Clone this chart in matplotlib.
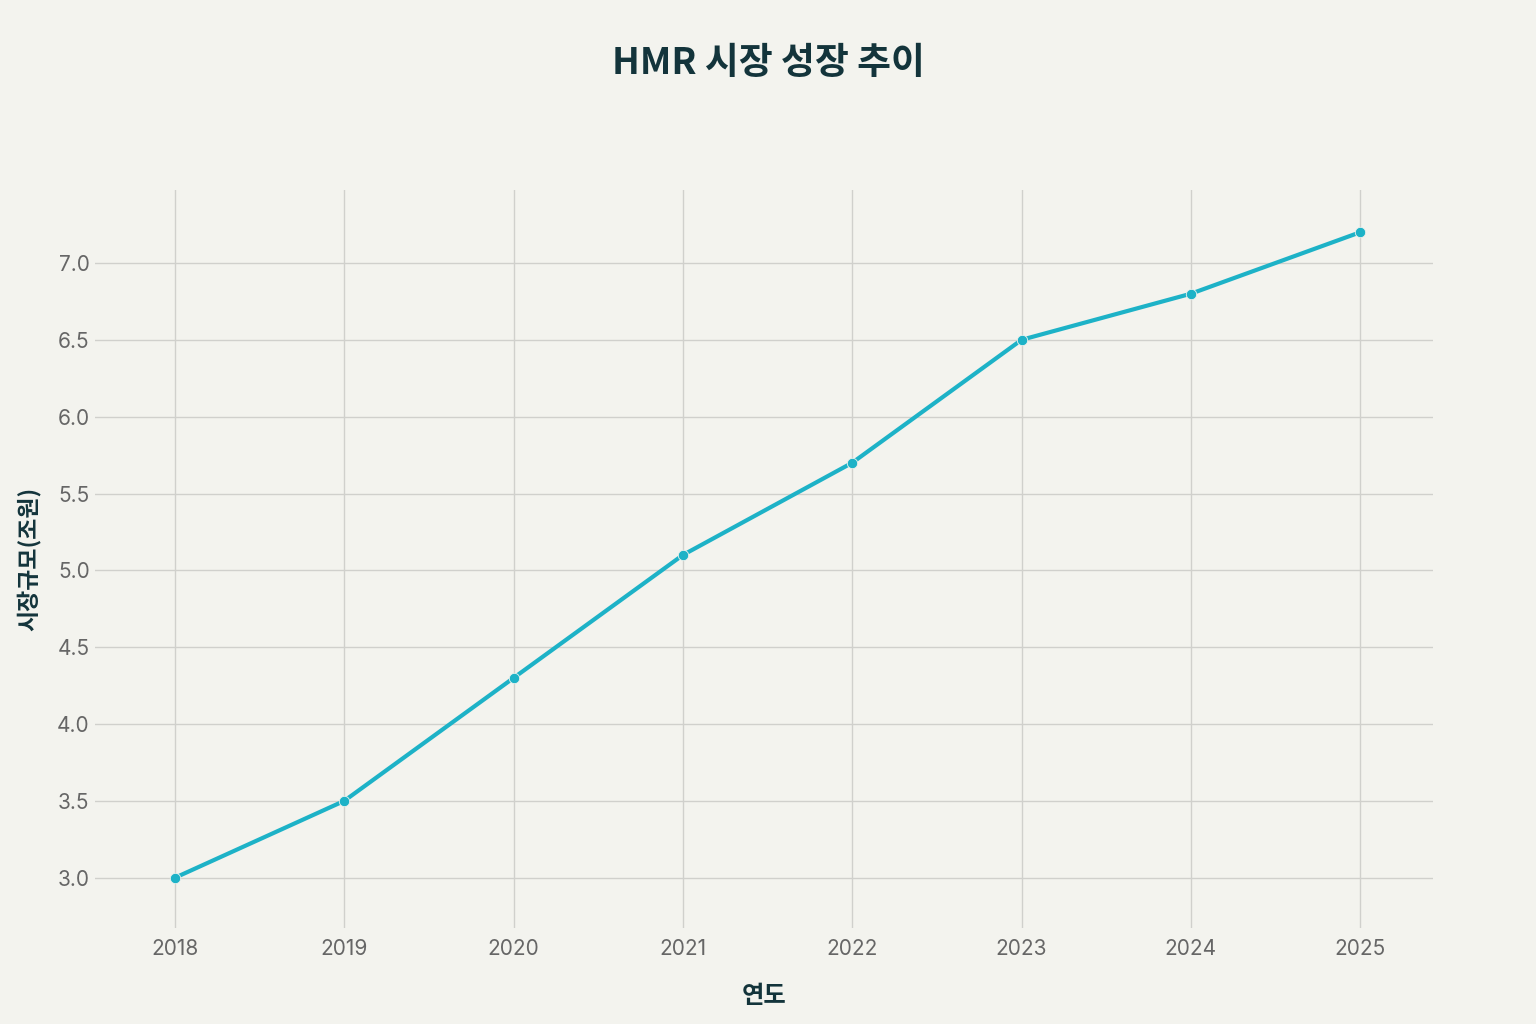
import matplotlib
matplotlib.use("Agg")
import matplotlib.pyplot as plt

years = [2018, 2019, 2020, 2021, 2022, 2023, 2024, 2025]
market_size = [3.0, 3.5, 4.3, 5.1, 5.7, 6.5, 6.8, 7.2]
y_ticks = [3.0, 3.5, 4.0, 4.5, 5.0, 5.5, 6.0, 6.5, 7.0]

title = "HMR 시장 성장 추이"
x_label = "연도"
y_label = "시장규모(조원)"

plt.rcParams['font.family'] = ['Noto Sans CJK KR', 'DejaVu Sans']

bg = "#F3F3EE"
fig = plt.figure(figsize=(15.36, 10.24), dpi=100, facecolor=bg)
ax = fig.add_axes([0.062, 0.094, 0.871, 0.7205])
ax.set_facecolor(bg)

ax.plot(years, market_size, color="#1DB2C7", linewidth=3, marker="o",
        markersize=7.5, markeredgecolor="#F3F3EE", markeredgewidth=0.6, zorder=3)

ax.set_xlim(2017.53, 2025.43)
ax.set_ylim(2.675, 7.475)
ax.set_xticks(years)
ax.set_xticklabels([str(y) for y in years])
ax.set_yticks(y_ticks)
ax.set_yticklabels([f"{v:.1f}" for v in y_ticks])

ax.grid(True, color="#D0D0CC", linewidth=1)
ax.set_axisbelow(True)
for s in ax.spines.values():
    s.set_visible(False)
ax.tick_params(axis='both', length=0, labelsize=15, labelcolor="#666666")
ax.tick_params(axis='x', pad=8)
ax.tick_params(axis='y', pad=4)
for lab in ax.get_xticklabels() + ax.get_yticklabels():
    lab.set_family(['Inter', 'DejaVu Sans'])

ax.set_xlabel(x_label, fontsize=17.5, fontweight='bold', color="#13343B", labelpad=18)
ax.set_ylabel(y_label, fontsize=16.5, fontweight='bold', color="#13343B", labelpad=12)

fig.text(0.5, 0.938, title, ha='center', va='center', fontsize=26.5,
         fontweight='bold', color="#13343B")

fig.savefig("out.png", dpi=100, facecolor=bg)
